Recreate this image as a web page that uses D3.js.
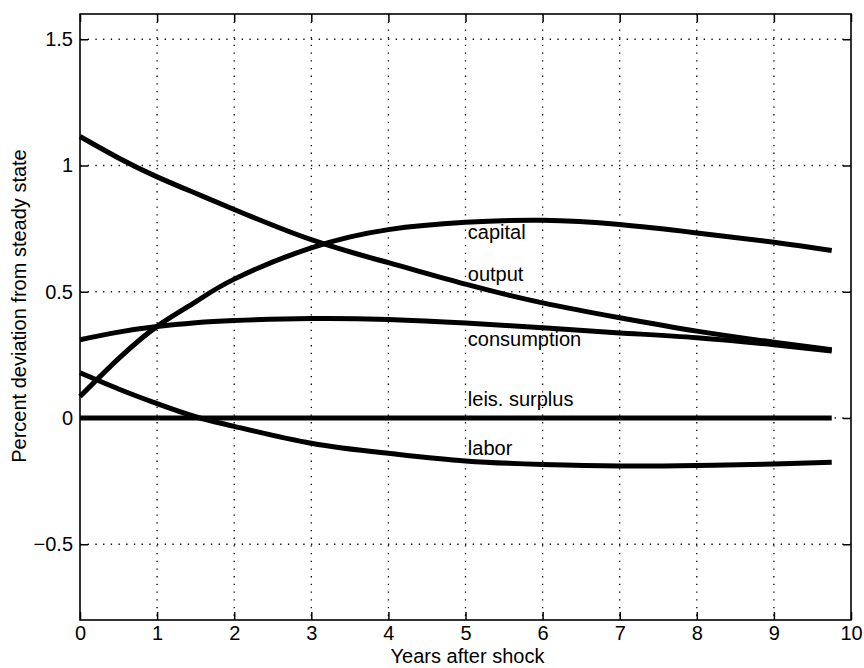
<!DOCTYPE html>
<html>
<head>
<meta charset="utf-8">
<script src="https://cdn.jsdelivr.net/npm/d3@7"></script>
<style>
  body { margin: 0; background: #fff; }
  text { font-family: "Liberation Sans", Arial, Helvetica, sans-serif; fill: #000; }
</style>
</head>
<body>
<div class="chart"></div>
<script>
// Data
const years = [0, 0.5, 1, 1.5, 2, 3, 4, 5, 6, 7, 8, 9, 9.75]
const capital     = [0.085, 0.235, 0.363, 0.46, 0.55, 0.674, 0.746, 0.775, 0.783, 0.766, 0.733, 0.696, 0.663]
const output      = [1.115, 1.03, 0.955, 0.89, 0.826, 0.706, 0.615, 0.53, 0.456, 0.397, 0.344, 0.30, 0.27]
const consumption = [0.31, 0.34, 0.362, 0.377, 0.386, 0.394, 0.39, 0.376, 0.357, 0.337, 0.318, 0.29, 0.265]
const leisSurplus = [0, 0, 0, 0, 0, 0, 0, 0, 0, 0, 0, 0, 0]
const labor       = [0.179, 0.115, 0.057, 0.005, -0.033, -0.1, -0.14, -0.17, -0.184, -0.19, -0.188, -0.182, -0.175]

const seriesNames = ['capital', 'output', 'consumption', 'leis. surplus', 'labor']
const seriesValues = [capital, output, consumption, leisSurplus, labor]
// label anchor positions in data units
const labelX = [5.03, 5.03, 5.03, 5.03, 5.03]
const labelY = [0.707, 0.542, 0.284, 0.046, -0.145]

const xTicks = [0, 1, 2, 3, 4, 5, 6, 7, 8, 9, 10]
const yTicks = [-0.5, 0, 0.5, 1, 1.5]

const width = 864
const height = 668
const margin = {top: 14, right: 13, bottom: 48, left: 80}
const w = width - margin.left - margin.right
const h = height - margin.top - margin.bottom
const fontSize = '20px'

const svg = d3.select('.chart')
    .append('svg')
    .attr('width', width)
    .attr('height', height)

const g = svg.append('g')
    .attr('transform', 'translate(' + margin.left + ',' + margin.top + ')')

const x = d3.scaleLinear().domain([0, 10]).range([0, w])
const y = d3.scaleLinear().domain([-0.8, 1.6]).range([h, 0])

// dotted grid
g.selectAll('.vgrid')
    .data(xTicks.filter(d => d > 0 && d < 10))
    .enter()
    .append('line')
    .attr('x1', d => x(d)).attr('x2', d => x(d))
    .attr('y1', 0).attr('y2', h)
    .style('stroke', '#000')
    .style('stroke-width', 1.3)
    .style('stroke-dasharray', '1.3,6.4')

g.selectAll('.hgrid')
    .data(yTicks)
    .enter()
    .append('line')
    .attr('x1', 0).attr('x2', w)
    .attr('y1', d => y(d)).attr('y2', d => y(d))
    .style('stroke', '#000')
    .style('stroke-width', 1.3)
    .style('stroke-dasharray', '1.3,6.4')

// axes with inward ticks on all four sides
const tickLen = 8
const fmtY = d => d < 0 ? '\u2212' + Math.abs(d) : String(d)

g.append('g')
    .attr('transform', 'translate(0,' + h + ')')
    .call(d3.axisBottom(x).tickValues(xTicks).tickSize(-tickLen).tickPadding(6).tickFormat(d3.format('d')))
g.append('g')
    .call(d3.axisTop(x).tickValues(xTicks).tickSize(-tickLen).tickFormat(''))
g.append('g')
    .call(d3.axisLeft(y).tickValues(yTicks).tickSize(-tickLen).tickPadding(7).tickFormat(fmtY))
g.append('g')
    .attr('transform', 'translate(' + w + ',0)')
    .call(d3.axisRight(y).tickValues(yTicks).tickSize(-tickLen).tickFormat(''))

g.selectAll('.domain').remove()
g.selectAll('.tick line').style('stroke', '#000').style('stroke-width', 1.5)
g.selectAll('.tick text')
    .style('font-size', fontSize)
    .style('font-family', '"Liberation Sans", Arial, sans-serif')
    .attr('fill', '#000')

// frame
g.append('rect')
    .attr('x', 0).attr('y', 0)
    .attr('width', w).attr('height', h)
    .style('fill', 'none')
    .style('stroke', '#000')
    .style('stroke-width', 1.6)

// curves
const line = d3.line()
    .x((d, i) => x(years[i]))
    .y(d => y(d))
    .curve(d3.curveNatural)

g.selectAll('.series')
    .data(seriesValues)
    .enter()
    .append('path')
    .attr('d', d => line(d))
    .style('fill', 'none')
    .style('stroke', '#000')
    .style('stroke-width', 5)

// curve labels
g.selectAll('.label')
    .data(seriesNames)
    .enter()
    .append('text')
    .attr('x', (d, i) => x(labelX[i]))
    .attr('y', (d, i) => y(labelY[i]))
    .style('font-size', fontSize)
    .text(d => d)

// axis titles
svg.append('text')
    .attr('text-anchor', 'middle')
    .attr('x', margin.left + w / 2 + 2)
    .attr('y', 663)
    .style('font-size', fontSize)
    .text('Years after shock')

svg.append('text')
    .attr('text-anchor', 'middle')
    .attr('transform', 'translate(26,306)rotate(-90)')
    .style('font-size', fontSize)
    .text('Percent deviation from steady state')
</script>
</body>
</html>
